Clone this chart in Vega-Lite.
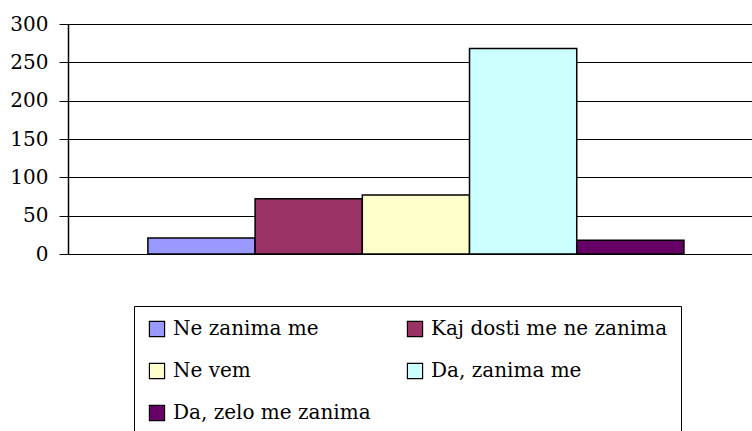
{
  "$schema": "https://vega.github.io/schema/vega-lite/v6.json",
  "width": 684,
  "height": 230,
  "autosize": {"type": "none"},
  "padding": {"left": 68, "top": 24, "right": 0, "bottom": 177},
  "background": "white",
  "data": {
    "values": [
      {"category": "Ne zanima me", "value": 21},
      {"category": "Kaj dosti me ne zanima", "value": 72},
      {"category": "Ne vem", "value": 77},
      {"category": "Da, zanima me", "value": 268},
      {"category": "Da, zelo me zanima", "value": 18}
    ]
  },
  "mark": {"type": "bar", "stroke": "black", "strokeWidth": 1.5, "opacity": 1},
  "encoding": {
    "x": {
      "field": "category",
      "type": "nominal",
      "sort": ["Ne zanima me", "Kaj dosti me ne zanima", "Ne vem", "Da, zanima me", "Da, zelo me zanima"],
      "scale": {"paddingInner": 0, "paddingOuter": 0.69, "align": 0.54},
      "axis": null
    },
    "y": {
      "field": "value",
      "type": "quantitative",
      "scale": {"domain": [0, 300], "nice": false},
      "axis": {
        "title": null,
        "values": [0, 50, 100, 150, 200, 250, 300],
        "grid": true,
        "gridColor": "black",
        "gridOpacity": 1,
        "gridWidth": 1,
        "domainColor": "black",
        "domainWidth": 1.5,
        "tickColor": "black",
        "tickSize": 9,
        "tickWidth": 1,
        "labelColor": "black",
        "labelPadding": 11,
        "labelFont": "DejaVu Serif",
        "labelFontSize": 20
      }
    },
    "color": {
      "field": "category",
      "type": "nominal",
      "scale": {
        "domain": ["Ne zanima me", "Kaj dosti me ne zanima", "Ne vem", "Da, zanima me", "Da, zelo me zanima"],
        "range": ["#9999FF", "#993366", "#FFFFCC", "#CCFFFF", "#660066"]
      },
      "legend": {
        "title": null,
        "orient": "none",
        "legendX": 66,
        "legendY": 282,
        "columns": 2,
        "direction": "horizontal",
        "symbolType": "square",
        "symbolSize": 230,
        "symbolStrokeColor": "black",
        "symbolStrokeWidth": 1.2,
        "symbolOpacity": 1,
        "labelColor": "black",
        "labelOffset": 6,
        "labelLimit": 400,
        "labelFont": "DejaVu Serif",
        "labelFontSize": 20,
        "strokeColor": "black",
        "fillColor": "white",
        "padding": 13,
        "rowPadding": 22,
        "columnPadding": 34
      }
    }
  },
  "config": {
    "view": {"stroke": null}
  }
}
